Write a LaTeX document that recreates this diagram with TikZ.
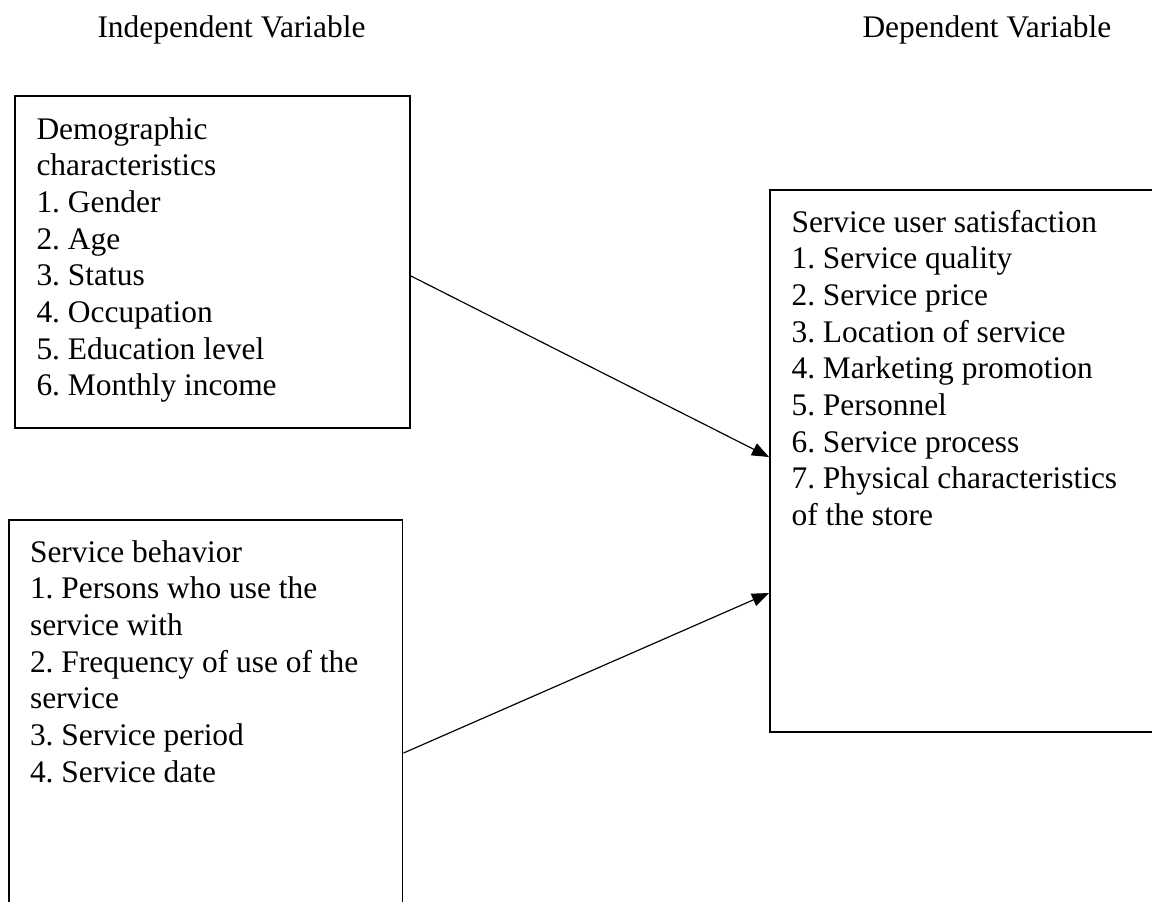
\documentclass[tikz,border=0pt]{standalone}
\usepackage{fontspec}
\setmainfont{Liberation Serif}
\usetikzlibrary{arrows.meta,fit}
\begin{document}
\begin{tikzpicture}[x=0.3817pt,y=-0.3817pt,
  box/.style={draw, line width=0.75pt, inner sep=0pt},
  txt/.style={anchor=base west, inner sep=0pt, font=\fontsize{12pt}{14pt}\selectfont\frenchspacing},
  arr/.style={line width=0.45pt, -{Triangle[length=6.5pt,width=5pt]}}]
\useasboundingbox (0,0) rectangle (1152,901);
\clip (0,0) rectangle (1152,901);
% headers
\node[txt] (hi) at (97,37) {Independent Variable};
\node[txt] (hd) at (862,37) {Dependent Variable};
% boxes
\node[box, fit={(15,96) (410,428)}] (d) {};
\node[box, fit={(9,520) (402.5,920)}] (b) {};
\node[box, fit={(770,190) (1160,732)}] (s) {};
% texts
\node[txt] (dt) at (36,139) {\begin{tabular}[t]{@{}l@{}}
Demographic\\
characteristics\\
1. Gender\\
2. Age\\
3. Status\\
4. Occupation\\
5. Education level\\
6. Monthly income
\end{tabular}};
\node[txt] (bt) at (29.5,562) {\begin{tabular}[t]{@{}l@{}}
Service behavior\\
1. Persons who use the\\
service with\\
2. Frequency of use of the\\
service\\
3. Service period\\
4. Service date
\end{tabular}};
\node[txt] (st) at (791,232) {\begin{tabular}[t]{@{}l@{}}
Service user satisfaction\\
1. Service quality\\
2. Service price\\
3. Location of service\\
4. Marketing promotion\\
5. Personnel\\
6. Service process\\
7. Physical characteristics\\
of the store
\end{tabular}};
% connectors
\draw[arr] (d.east |- 0,276) -- (s.west |- 0,457);
\draw[arr] (b.east |- 0,753) -- (s.west |- 0,593);
\end{tikzpicture}
\end{document}
